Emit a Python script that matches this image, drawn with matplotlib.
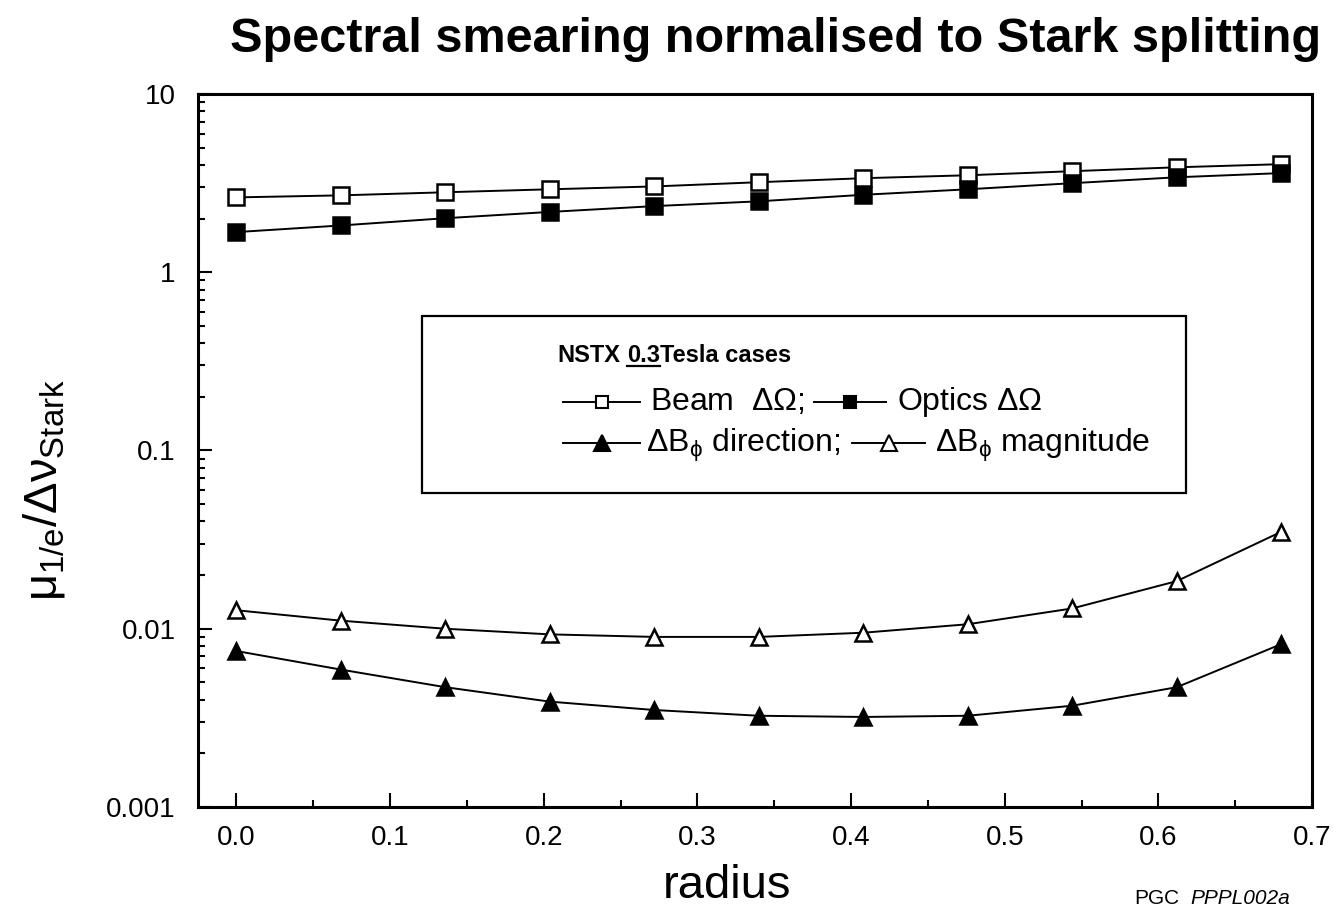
import matplotlib
matplotlib.use('Agg')
import matplotlib.pyplot as plt
from matplotlib.lines import Line2D
from matplotlib.patches import Rectangle
from matplotlib.ticker import LogLocator, MultipleLocator, NullFormatter

# values
radius = [0.0, 0.068, 0.136, 0.204, 0.272, 0.340, 0.408, 0.476, 0.544, 0.612, 0.680]
beam_dOmega = [2.63, 2.70, 2.81, 2.92, 3.03, 3.20, 3.37, 3.50, 3.69, 3.88, 4.04]
optics_dOmega = [1.68, 1.83, 2.01, 2.18, 2.35, 2.50, 2.72, 2.92, 3.16, 3.41, 3.60]
dB_direction = [0.0075, 0.0059, 0.0047, 0.0039, 0.0035, 0.00325, 0.0032, 0.00325, 0.0037, 0.0047, 0.0082]
dB_magnitude = [0.0127, 0.0111, 0.0100, 0.0093, 0.0090, 0.0090, 0.0095, 0.0106, 0.0130, 0.0185, 0.0350]

x_ticks = [0.0, 0.1, 0.2, 0.3, 0.4, 0.5, 0.6, 0.7]
x_ticklabels = ['0.0', '0.1', '0.2', '0.3', '0.4', '0.5', '0.6', '0.7']
y_ticks = [0.001, 0.01, 0.1, 1, 10]
y_ticklabels = ['0.001', '0.01', '0.1', '1', '10']

plt.rcParams['font.family'] = ['Liberation Sans', 'DejaVu Sans']
plt.rcParams['mathtext.fontset'] = 'custom'
plt.rcParams['mathtext.rm'] = 'Liberation Sans'
plt.rcParams['mathtext.it'] = 'Liberation Sans'
plt.rcParams['mathtext.bf'] = 'Liberation Sans:bold'

W, H = 1334, 913


def fx(px):
    return px / W


def fy(py):
    return 1 - py / H


fig = plt.figure(figsize=(W / 100, H / 100), dpi=100)
ax = fig.add_axes([fx(198), fy(807), fx(1312) - fx(198), fy(94) - fy(807)])

mk = dict(color='black', lw=1.4, mec='black', mew=1.8)
ax.plot(radius, beam_dOmega, marker='s', ms=11, mfc='white', **mk)
ax.plot(radius, optics_dOmega, marker='s', ms=11, mfc='black', **mk)
ax.plot(radius, dB_magnitude, marker='^', ms=12, mfc='white', **mk)
ax.plot(radius, dB_direction, marker='^', ms=12, mfc='black', **mk)

ax.set_yscale('log')
ax.set_ylim(0.001, 10)
ax.set_xlim(-0.025, 0.7)
ax.set_xticks(x_ticks)
ax.set_xticklabels(x_ticklabels)
ax.xaxis.set_minor_locator(MultipleLocator(0.05))
ax.set_yticks(y_ticks)
ax.set_yticklabels(y_ticklabels)
ax.yaxis.set_minor_locator(LogLocator(base=10, subs=range(2, 10)))
ax.yaxis.set_minor_formatter(NullFormatter())

ax.tick_params(which='both', direction='in', top=False, right=False, width=1.5)
ax.tick_params(which='major', length=10, labelsize=20)
ax.tick_params(axis='x', which='major', pad=13)
ax.tick_params(axis='y', which='major', pad=16)
ax.tick_params(which='minor', length=5)
for sp in ax.spines.values():
    sp.set_linewidth(2.2)

ax.set_xlabel('radius', fontsize=34)
ax.xaxis.set_label_coords((727 - 198) / 1114, -0.080)
ax.set_ylabel(r'$\mu_{1/e}/\Delta\nu_{Stark}$', fontsize=34)
ax.yaxis.set_label_coords(-0.118, (807 - 490) / 713)

fig.text(fx(776), fy(52), 'Spectral smearing normalised to Stark splitting',
         ha='center', va='baseline', fontsize=35, fontweight='bold')

fig.text(fx(1134), fy(904), 'PGC', fontsize=15, va='baseline')
fig.text(fx(1190), fy(904), 'PPPL002a', fontsize=15, va='baseline', style='italic')

# hand-made legend box
fig.add_artist(Rectangle((fx(422), fy(493)), fx(1186) - fx(422), fy(316) - fy(493),
                         transform=fig.transFigure, fill=False, lw=1.6, ec='black'))

renderer = fig.canvas.get_renderer()
inv = fig.transFigure.inverted()
bold = dict(fontsize=17, fontweight='bold', va='baseline')
t1 = fig.text(fx(557), fy(362), 'NSTX', **bold)
x_end = inv.transform(t1.get_window_extent(renderer).get_points())[1, 0]
t2 = fig.text(x_end + fx(7), fy(362), '0.3', **bold)
bb = t2.get_window_extent(renderer).transformed(inv)
fig.text(bb.x1, fy(362), 'Tesla cases', **bold)
fig.add_artist(Line2D([bb.x0, bb.x1], [fy(366), fy(366)], transform=fig.transFigure,
                      color='black', lw=1.6))


def sample(x0, x1, y, marker, fill, ms):
    fig.add_artist(Line2D([fx(x0), fx(x1)], [fy(y), fy(y)], transform=fig.transFigure,
                          color='black', lw=1.4))
    fig.add_artist(Line2D([fx((x0 + x1) / 2)], [fy(y)], transform=fig.transFigure,
                          marker=marker, ms=ms, mfc=fill, mec='black', mew=1.5, ls='none'))


sample(563, 640, 402, 's', 'white', 9)
fig.text(fx(650), fy(410), r'Beam  $\Delta\Omega$;', fontsize=23, va='baseline')
sample(814, 886, 402, 's', 'black', 9)
fig.text(fx(897), fy(410), r'Optics $\Delta\Omega$', fontsize=23, va='baseline')

sample(563, 640, 443, '^', 'black', 11)
fig.text(fx(646), fy(452), r'$\Delta$B$_\phi$ direction;', fontsize=23, va='baseline')
sample(852, 925, 443, '^', 'white', 11)
fig.text(fx(935), fy(452), r'$\Delta$B$_\phi$ magnitude', fontsize=23, va='baseline')

fig.savefig('out.png', dpi=100)
